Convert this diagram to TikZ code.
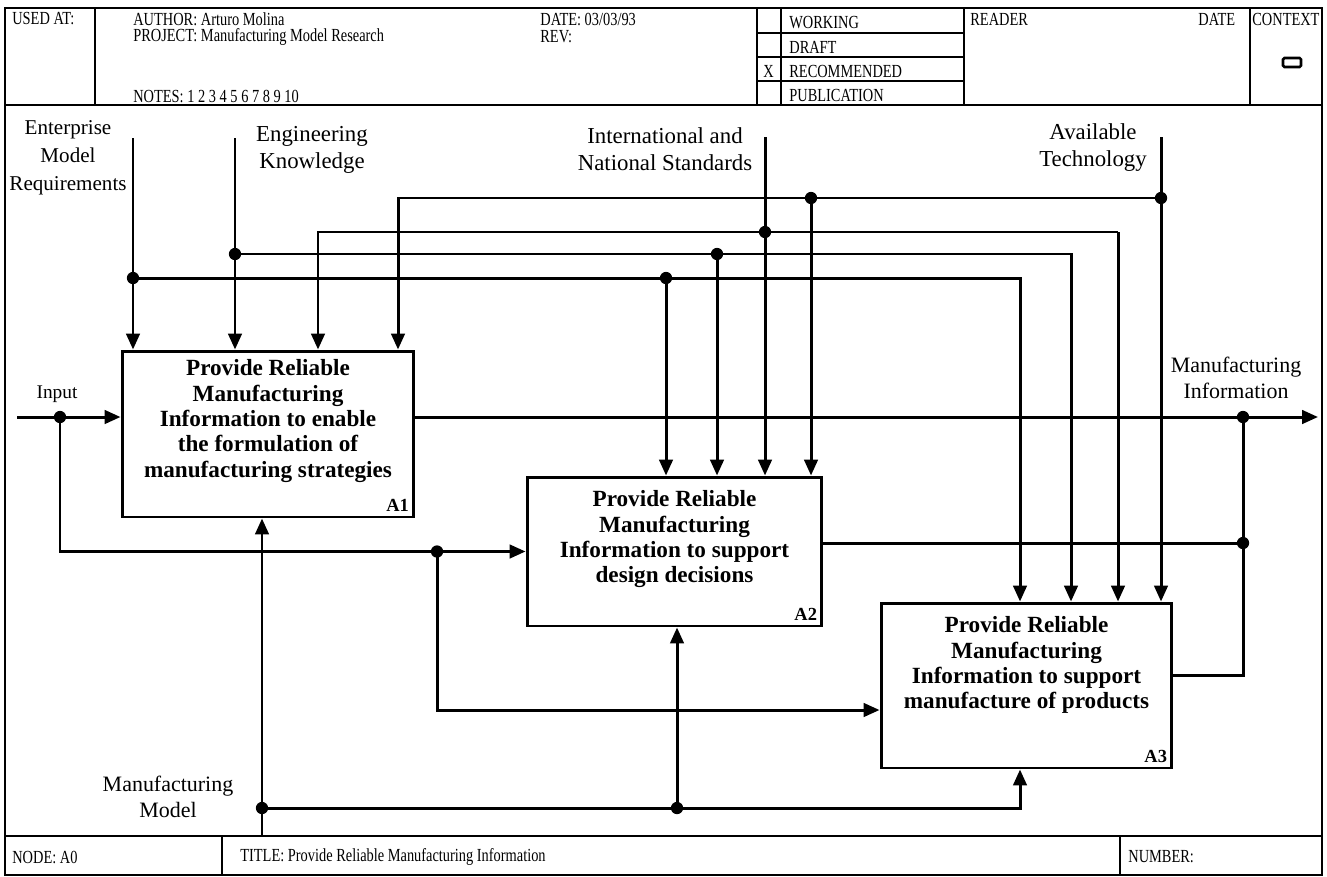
\documentclass[tikz,border=0pt]{standalone}
\usepackage{fontspec}
\setmainfont{Liberation Serif}
\newfontfamily\formfont{Liberation Serif}[FakeStretch=0.78]
\usetikzlibrary{arrows.meta,positioning,calc}
\tikzset{
  activity/.style={rectangle,draw,line width=1.7pt,inner sep=0pt},
  acttext/.style={font=\fontsize{13.2}{14.4}\selectfont\bfseries,align=center,
    anchor=north,inner sep=0pt},
  boxid/.style={font=\fontsize{10.5}{12}\selectfont\bfseries,anchor=south east,
    inner sep=3.5pt},
  wire/.style={line width=1.7pt},
  flow/.style={wire,-{Triangle[length=9pt,width=7.6pt]}},
  junction/.style={circle,fill,inner sep=0pt,minimum size=7pt},
  flowlabel/.style={font=\fontsize{13}{15.4}\selectfont,align=center,inner sep=0pt},
  formline/.style={line width=1.5pt},
  formtext/.style={font=\formfont\fontsize{10.5}{12}\selectfont,anchor=west,
    inner sep=0pt}
}
\begin{document}
\begin{tikzpicture}[x=0.02cm,y=-0.02cm]
\useasboundingbox (0,0) rectangle (1327,876);

% form frame, header and footer
\draw[formline] (5,8) rectangle (1322,875);
\draw[formline] (5,105) -- (1322,105);
\draw[formline] (5,836) -- (1322,836);
\foreach \xx in {95,757,781,964,1250}
  \draw[formline] (\xx,8) -- (\xx,105);
\foreach \yy in {33,57,81}
  \draw[formline] (757,\yy) -- (964,\yy);
\foreach \xx in {222,1120}
  \draw[formline] (\xx,836) -- (\xx,875);

\node[formtext] (usedat) at (12,19) {USED AT:};
\node[formtext] (author) at (133,19) {AUTHOR: Arturo Molina};
\node[formtext] (project) at (133,37) {PROJECT: Manufacturing Model Research};
\node[formtext] (notes) at (133,96) {NOTES: 1 2 3 4 5 6 7 8 9 10};
\node[formtext] (date) at (540,19) {DATE: 03/03/93};
\node[formtext] (rev) at (540,37) {REV:};
\node[formtext] (working) at (789,23) {WORKING};
\node[formtext] (draft) at (789,47) {DRAFT};
\node[formtext] (recom) at (789,71) {RECOMMENDED};
\node[formtext] (publ) at (789,95) {PUBLICATION};
\node[formtext] (mark) at (763,71) {X};
\node[formtext] (reader) at (970,19) {READER};
\node[formtext] (rdate) at (1198,19) {DATE};
\node[formtext] (context) at (1252,19) {CONTEXT};
\draw[formline,rounded corners=0.8pt] (1283,58) rectangle (1301,67);
\node[formtext] (nodeno) at (12,857) {NODE: A0};
\node[formtext] (title) at (240,857) {TITLE: Provide Reliable Manufacturing Information};
\node[formtext] (number) at (1128,857) {NUMBER:};

% activity boxes
\node[activity,minimum width=5.84cm,minimum height=3.32cm] (A1) at (268,434) {};
\node[activity,minimum width=5.90cm,minimum height=2.98cm] (A2) at (674.5,551.5) {};
\node[activity,minimum width=5.82cm,minimum height=3.30cm] (A3) at (1026.5,685.5) {};

\node[acttext] (A1txt) at ([yshift=-0.2cm]A1.north) {Provide Reliable\\Manufacturing\\
  Information to enable\\the formulation of\\manufacturing strategies};
\node[acttext] (A2txt) at ([yshift=-0.3cm]A2.north) {Provide Reliable\\Manufacturing\\
  Information to support\\design decisions};
\node[acttext] (A3txt) at ([yshift=-0.3cm]A3.north) {Provide Reliable\\Manufacturing\\
  Information to support\\manufacture of products};
\node[boxid] at (A1.south east) {A1};
\node[boxid] at (A2.south east) {A2};
\node[boxid] at (A3.south east) {A3};

% controls
\node[flowlabel,font=\fontsize{12}{15.8}\selectfont] (entreq) at (68,158)
  {Enterprise\\Model\\Requirements};
\node[flowlabel] (engknow) at (312,150) {Engineering\\Knowledge};
\node[flowlabel] (stds) at (665,149) {International and\\National Standards};
\node[flowlabel] (avtech) at (1093,148) {Available\\Technology};

\coordinate (cE) at (133,138);
\coordinate (cK) at (235,138);
\coordinate (cS) at (765,137);
\coordinate (cT) at (1161,137);
\coordinate (jE1) at (133,278);
\coordinate (jK1) at (235,254);
\coordinate (jS1) at (765,232);
\coordinate (jT1) at (1161,198);
\coordinate (jE2) at (666,278);
\coordinate (jK2) at (717,254);
\coordinate (jT2) at (811,198);
\coordinate (kE) at (1020,278);
\coordinate (kK) at (1071,254);
\coordinate (kS1) at (318,232);
\coordinate (kS3) at (1118,232);
\coordinate (kT) at (398,198);

\draw[flow] (cE) -- (cE |- A1.north);
\draw[flow] (cK) -- (cK |- A1.north);
\draw[flow] (cS) -- (cS |- A2.north);
\draw[flow] (cT) -- (cT |- A3.north);
\draw[flow] (jE1) -- (kE) -- (kE |- A3.north);
\draw[flow] (jE2) -- (jE2 |- A2.north);
\draw[flow] (jK1) -- (kK) -- (kK |- A3.north);
\draw[flow] (jK2) -- (jK2 |- A2.north);
\draw[flow] (kS3) -- (kS1) -- (kS1 |- A1.north);
\draw[flow] (kS3) -- (kS3 |- A3.north);
\draw[flow] (jT1) -- (kT) -- (kT |- A1.north);
\draw[flow] (jT2) -- (jT2 |- A2.north);

% inputs
\node[flowlabel,font=\fontsize{11}{13}\selectfont] (inlbl) at (57,394) {Input};
\coordinate (inp) at (17,417);
\coordinate (jI1) at (60,417);
\coordinate (jI2) at (437,551.5);
\draw[flow] (inp) -- (inp -| A1.west);
\draw[flow] (jI1) |- (A2.west);
\draw[flow] (jI2) |- ([yshift=-0.49cm]A3.west);

% outputs
\node[flowlabel,font=\fontsize{12.5}{14.7}\selectfont] (outlbl) at (1236,378)
  {Manufacturing\\Information};
\coordinate (out) at (1318,417);
\coordinate (jO1) at (1243,417);
\coordinate (jO2) at (1243,543);
\coordinate (kO3) at (1243,675);
\draw[flow] (A1.east |- out) -- (out);
\draw[wire] (A2.east |- jO2) -- (jO2);
\draw[wire] (A3.east |- kO3) -- (kO3) -- (jO1);

% mechanisms
\node[flowlabel,font=\fontsize{12.5}{14.7}\selectfont] (mechlbl) at (168,797)
  {Manufacturing\\Model};
\coordinate (mm) at (262,836);
\coordinate (jM1) at (262,808);
\coordinate (jM2) at (677,808);
\coordinate (kM) at (1020,808);
\draw[flow] (mm) -- (mm |- A1.south);
\draw[flow] (jM1) -- (kM) -- (kM |- A3.south);
\draw[flow] (jM2) -- (jM2 |- A2.south);

% branch points
\foreach \j in {jE1,jK1,jS1,jT1,jE2,jK2,jT2,jI1,jI2,jO1,jO2,jM1,jM2}
  \node[junction] at (\j) {};
\end{tikzpicture}
\end{document}
